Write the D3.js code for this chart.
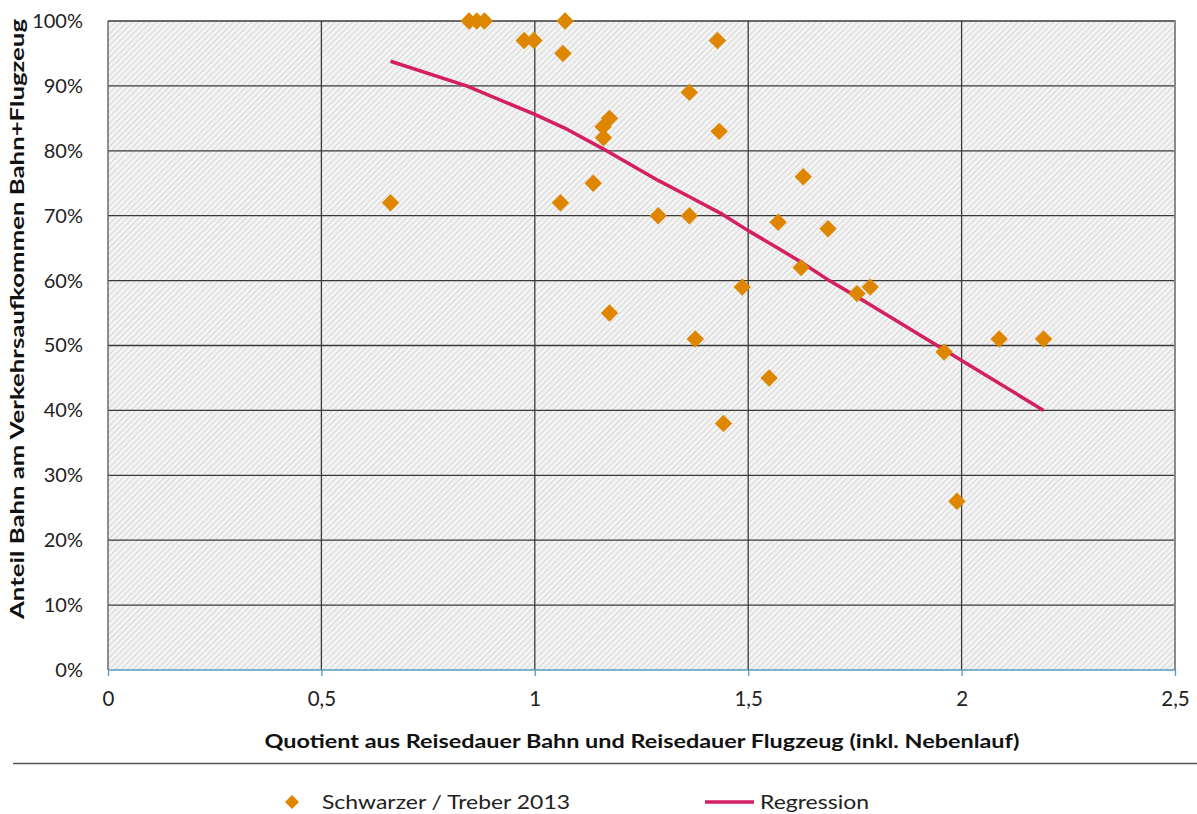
<!DOCTYPE html>
<html><head><meta charset="utf-8">
<script src="https://cdn.jsdelivr.net/npm/d3@7"></script>
<style>body{margin:0;background:#fff}svg{display:block}text{font-family:Lato,"Open Sans",sans-serif}</style>
</head><body>
<svg id="c" width="1197" height="814"></svg>
<script>
// Data: Schwarzer / Treber 2013
const quotient = [0.662,0.846,0.864,0.882,0.975,0.998,1.071,1.066,1.362,1.428,1.432,1.175,1.16,1.161,1.137,1.06,1.175,1.289,1.362,1.376,1.442,1.486,1.549,1.57,1.629,1.624,1.687,1.755,1.786,1.959,2.088,2.192,1.989];
const anteil   = [72,100,100,100,97,97,100,95,89,97,83,85,83.7,82,75,72,55,70,70,51,38,59,45,69,76,62,68,58,59,49,51,51,26];
// Regression line
const regX = [0.662,0.84,1.0,1.07,1.16,1.29,1.36,1.44,1.5,1.57,1.63,1.69,1.76,1.78,1.96,2.0,2.192];
const regY = [93.8,90.0,85.6,83.5,80.3,75.4,73.0,70.2,67.7,65.0,62.6,60.0,57.3,56.5,49.3,47.7,40.0];
const xTicks = [0,0.5,1,1.5,2,2.5];
const xTickLabels = ["0","0,5","1","1,5","2","2,5"];
const yTicks = [0,10,20,30,40,50,60,70,80,90,100];
const seriesNames = ["Schwarzer / Treber 2013","Regression"];
const xTitle = "Quotient aus Reisedauer Bahn und Reisedauer Flugzeug (inkl. Nebenlauf)";
const yTitle = "Anteil Bahn am Verkehrsaufkommen Bahn+Flugzeug";

const svg = d3.select("#c");
const L=108,R=1175,T=21,B=670;
const x = d3.scaleLinear().domain([0,2.5]).range([L,R]);
const y = d3.scaleLinear().domain([0,100]).range([B,T]);

const defs = svg.append("defs");
const pat = defs.append("pattern").attr("id","hatch").attr("patternUnits","userSpaceOnUse")
  .attr("width",4.2).attr("height",4.2).attr("patternTransform","rotate(45)");
pat.append("rect").attr("width",4.2).attr("height",4.2).attr("fill","#f3f3f3");
pat.append("line").attr("x1",0).attr("y1",0).attr("x2",0).attr("y2",4.2).attr("stroke","#d2d2d2").attr("stroke-width",1.6);

svg.append("rect").attr("x",L).attr("y",T).attr("width",R-L).attr("height",B-T).attr("fill","url(#hatch)");

// gridlines
svg.append("g").selectAll("line").data(yTicks.filter(d=>d>0)).join("line")
  .attr("x1",L).attr("x2",R).attr("y1",d=>y(d)).attr("y2",d=>y(d))
  .attr("stroke","#3a3a3a").attr("stroke-width",1.3);
svg.append("g").selectAll("line").data(xTicks.filter(d=>d>0&&d<2.5)).join("line")
  .attr("y1",T).attr("y2",B).attr("x1",d=>x(d)).attr("x2",d=>x(d))
  .attr("stroke","#3a3a3a").attr("stroke-width",1.3);
// left border
svg.append("line").attr("x1",L).attr("x2",L).attr("y1",T).attr("y2",B).attr("stroke","#555").attr("stroke-width",1.3);
// right border
svg.append("line").attr("x1",R).attr("x2",R).attr("y1",T-1).attr("y2",B).attr("stroke","#8a8a8a").attr("stroke-width",2);

// x axis (blue)
const xa = svg.append("g").attr("transform",`translate(0,${B})`)
  .call(d3.axisBottom(x).tickValues(xTicks).tickFormat((d,i)=>xTickLabels[i]).tickSize(6).tickPadding(15));
xa.select(".domain").attr("stroke","#5a9bbf").attr("stroke-width",1.3).attr("d",`M${L},0H${R}`);
xa.selectAll(".tick line").attr("stroke","#5a9bbf").attr("stroke-width",1.3);
xa.selectAll("text").attr("font-size",20.5).attr("fill","#222").style("font-family","Lato");

// y axis labels
const ya = svg.append("g").attr("transform",`translate(${L},0)`)
  .call(d3.axisLeft(y).tickValues(yTicks).tickFormat(d=>d+"%").tickSize(0).tickPadding(25));
ya.select(".domain").remove();
ya.selectAll("text").attr("font-size",20).attr("fill","#222").style("font-family","Lato");

// regression
svg.append("path").datum(regX.map((d,i)=>[d,regY[i]]))
  .attr("d",d3.line().x(d=>x(d[0])).y(d=>y(d[1])))
  .attr("fill","none").attr("stroke","#d41f62").attr("stroke-width",3.5).attr("stroke-linejoin","round");

// points
const diamond = s => `M0,${-s}L${s},0L0,${s}L${-s},0Z`;
svg.append("g").selectAll("path").data(quotient.map((d,i)=>[d,anteil[i]])).join("path")
  .attr("transform",d=>`translate(${x(d[0])},${y(d[1])})`)
  .attr("d",diamond(8.7)).attr("fill","#de8600");

// titles
svg.append("text").attr("x",642).attr("y",748).attr("text-anchor","middle")
  .attr("font-size",18).attr("font-weight","bold").attr("fill","#111")
  .attr("textLength",755).attr("lengthAdjust","spacingAndGlyphs").text(xTitle);
svg.append("text").attr("transform","translate(24,319) rotate(-90)").attr("text-anchor","middle")
  .attr("font-size",18).attr("font-weight","bold").attr("fill","#111")
  .attr("textLength",600).attr("lengthAdjust","spacingAndGlyphs").text(yTitle);

// separator
svg.append("line").attr("x1",13).attr("x2",1197).attr("y1",763.5).attr("y2",763.5).attr("stroke","#555").attr("stroke-width",1.5);

// legend
svg.append("path").attr("transform","translate(292,802)").attr("d",diamond(7)).attr("fill","#de8600");
svg.append("text").attr("x",322).attr("y",809).attr("font-size",20).attr("fill","#222")
  .attr("textLength",248).attr("lengthAdjust","spacingAndGlyphs").text(seriesNames[0]);
svg.append("line").attr("x1",705).attr("x2",754).attr("y1",802).attr("y2",802).attr("stroke","#d41f62").attr("stroke-width",3.5);
svg.append("text").attr("x",760).attr("y",809).attr("font-size",20).attr("fill","#222")
  .attr("textLength",109).attr("lengthAdjust","spacingAndGlyphs").text(seriesNames[1]);
</script>
</body></html>
